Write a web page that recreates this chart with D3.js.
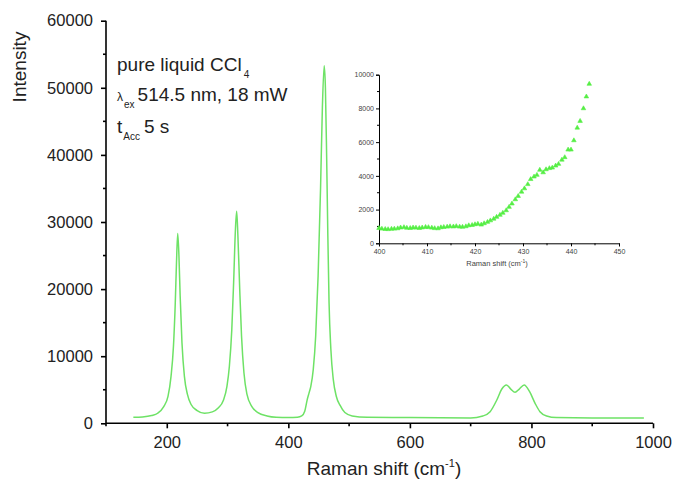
<!DOCTYPE html>
<html><head><meta charset="utf-8">
<script src="https://cdn.jsdelivr.net/npm/d3@7"></script>
<style>
html,body{margin:0;padding:0;background:#fff;}
svg{display:block;font-family:"Liberation Sans",Arial,sans-serif;}
</style></head>
<body><svg id="c" width="674" height="479"></svg>
<script>
// Main spectrum (Raman shift in cm-1, intensity)
const shift = [145,160,175,185,195,202,207,211,214,216,218,220,222,225,229,234,240,250,262,275,285,293,299,303,307,310,313,315,317,320,323,327,332,340,350,365,380,400,415,422,427,431,434,437,441,445,449,453,456,459,461,463,465,467,470,474,479,485,493,505,530,600,700,720,732,743,751,759,766,773,780,788,797,806,814,825,841,900,985];
const intensity = [900,950,1150,1500,2500,4000,7000,11500,18000,24000,28300,25000,19000,12000,7000,4300,2800,1900,1500,1700,2300,3400,5500,8500,14000,21000,29000,31600,28000,20000,13000,7500,4300,2500,1600,1100,900,850,900,1100,1800,3500,4500,5500,8000,13000,22000,35000,47000,53300,50000,40000,28000,18000,11000,6500,4000,2700,1600,1100,900,850,800,1090,1730,3470,5070,5710,5100,4620,5100,5710,4710,2980,1730,1090,850,800,800];
// Inset (zoom on 400-445 cm-1)
const insetShift = [400.0,400.6,401.3,401.9,402.6,403.2,403.9,404.5,405.2,405.8,406.5,407.1,407.7,408.4,409.0,409.7,410.3,411.0,411.6,412.3,412.9,413.5,414.2,414.8,415.5,416.1,416.8,417.4,418.1,418.7,419.4,420.0,420.6,421.3,421.9,422.6,423.2,423.9,424.5,425.2,425.8,426.5,427.1,427.7,428.4,429.0,429.7,430.3,431.0,431.6,432.3,432.9,433.5,434.2,434.8,435.5,436.1,436.8,437.4,438.1,438.7,439.4,440.0,440.6,441.3,441.9,442.6,443.2,443.8];
const insetIntensity = [900,860,840,830,850,860,880,930,950,910,900,930,920,900,930,960,950,920,890,880,940,960,980,1000,990,1010,980,970,1000,1060,1080,1120,1150,1100,1180,1260,1350,1450,1560,1680,1800,1950,2150,2350,2600,2800,3050,3250,3500,3800,3950,4050,4350,4200,4380,4450,4480,4600,4700,4950,5100,5550,5550,6100,6850,7250,8000,8700,9450];
// Ticks
const xMajor = [200,400,600,800,1000];
const xMinor = [100,300,500,700,900];
const yMajor = [0,10000,20000,30000,40000,50000,60000];
const yMinor = [5000,15000,25000,35000,45000,55000];
const ixMajor = [400,410,420,430,440,450];
const ixMinor = [405,415,425,435,445];
const iyMajor = [0,2000,4000,6000,8000,10000];
const iyMinor = [1000,3000,5000,7000,9000];

const svg = d3.select("#c");
svg.append("rect").attr("width",674).attr("height",479).attr("fill","#fff");
const lineColor = "#6ee266";

// ---------- main chart ----------
const x = d3.scaleLinear().domain([100,1000]).range([106,653]);
const y = d3.scaleLinear().domain([0,60000]).range([423.3,20.7]);

function drawAxis(g, axisFn, major, fmt, majLen, fs, sw, pad){
  g.call(axisFn.tickValues(major).tickSize(majLen).tickPadding(pad).tickFormat(fmt));
  g.select(".domain").attr("stroke","#000").attr("stroke-width",sw);
  g.selectAll(".tick line").attr("stroke","#000").attr("stroke-width",sw);
  g.selectAll(".tick text").attr("font-size",fs).attr("fill","#222").attr("font-family","Liberation Sans, Arial, sans-serif");
}

const gx = svg.append("g").attr("transform","translate(0,423.3)");
drawAxis(gx, d3.axisBottom(x).tickSizeOuter(0), xMajor, d3.format("d"), 5, 16.5, 1.6, 8);
gx.selectAll(".mn").data(xMinor).join("line").attr("class","mn")
  .attr("x1",d=>x(d)).attr("x2",d=>x(d)).attr("y1",0).attr("y2",3).attr("stroke","#000").attr("stroke-width",1.6);
gx.select(".domain").attr("d",`M${x(100)},0H${x(1000)}`);

const gy = svg.append("g").attr("transform","translate(106,0)");
drawAxis(gy, d3.axisLeft(y).tickSizeOuter(0), yMajor, d3.format("d"), 5, 16.5, 1.6, 8);
gy.selectAll(".mn").data(yMinor).join("line").attr("class","mn")
  .attr("x1",0).attr("x2",-3).attr("y1",d=>y(d)).attr("y2",d=>y(d)).attr("stroke","#000").attr("stroke-width",1.6);
gy.select(".domain").attr("d",`M0,${y(0)}V${y(60000)}`);

const line = d3.line().x((d,i)=>x(shift[i])).y(d=>y(d)).curve(d3.curveMonotoneX);
svg.append("path").attr("d",line(intensity)).attr("fill","none").attr("stroke",lineColor).attr("stroke-width",1.5);

// axis titles
svg.append("text").attr("transform","translate(26,67) rotate(-90)").attr("text-anchor","middle")
  .attr("font-size",19).attr("fill","#222").text("Intensity");
const xt = svg.append("text").attr("x",384).attr("y",475).attr("text-anchor","middle").attr("font-size",19).attr("fill","#222");
xt.append("tspan").text("Raman shift (cm");
xt.append("tspan").attr("font-size",11).attr("dy",-8).text("-1");
xt.append("tspan").attr("dy",8).text(")");

// annotation
const a1 = svg.append("text").attr("x",117).attr("y",71).attr("font-size",19).attr("fill","#222");
a1.append("tspan").text("pure liquid CCl");
a1.append("tspan").attr("font-size",10).attr("dy",7).attr("dx",2).text("4");
const a2 = svg.append("text").attr("x",117).attr("y",101).attr("font-size",19).attr("fill","#222");
a2.append("tspan").attr("font-size",12).text("λ");
a2.append("tspan").attr("font-size",10).attr("dy",7).attr("dx",1).text("ex");
a2.append("tspan").attr("dy",-7).attr("dx",3).text("514.5 nm, 18 mW");
const a3 = svg.append("text").attr("x",117).attr("y",133).attr("font-size",19).attr("fill","#222");
a3.append("tspan").text("t");
a3.append("tspan").attr("font-size",10).attr("dy",7).attr("dx",1).text("Acc");
a3.append("tspan").attr("dy",-7).attr("dx",4).text("5 s");

// ---------- inset ----------
const ix = d3.scaleLinear().domain([400,450]).range([379,619]);
const iy = d3.scaleLinear().domain([0,10000]).range([243.3,74.7]);

const igx = svg.append("g").attr("transform","translate(0,243.3)");
drawAxis(igx, d3.axisBottom(ix).tickSizeOuter(0), ixMajor, d3.format("d"), 3, 7, 1, 3);
igx.selectAll(".mn").data(ixMinor).join("line").attr("class","mn")
  .attr("x1",d=>ix(d)).attr("x2",d=>ix(d)).attr("y1",0).attr("y2",2).attr("stroke","#000");
igx.selectAll(".tick text").attr("fill","#444");
const igy = svg.append("g").attr("transform","translate(379,0)");
drawAxis(igy, d3.axisLeft(iy).tickSizeOuter(0), iyMajor, d3.format("d"), 3, 7, 1, 2);
igy.selectAll(".mn").data(iyMinor).join("line").attr("class","mn")
  .attr("x1",0).attr("x2",-2).attr("y1",d=>iy(d)).attr("y2",d=>iy(d)).attr("stroke","#000");
igy.selectAll(".tick text").attr("fill","#444");

const it = svg.append("text").attr("x",497).attr("y",266).attr("text-anchor","middle").attr("font-size",7.5).attr("fill","#444");
it.append("tspan").text("Raman shift (cm");
it.append("tspan").attr("font-size",5).attr("dy",-3).text("-1");
it.append("tspan").attr("dy",3).text(")");

const tri = d3.symbol().type(d3.symbolTriangle).size(9);
svg.append("g").selectAll("path").data(insetIntensity).join("path")
  .attr("d",tri).attr("transform",(d,i)=>`translate(${ix(insetShift[i])},${iy(d)})`)
  .attr("fill","#55ee44").attr("stroke","#55ee44").attr("stroke-width",0.6);
</script></body></html>
